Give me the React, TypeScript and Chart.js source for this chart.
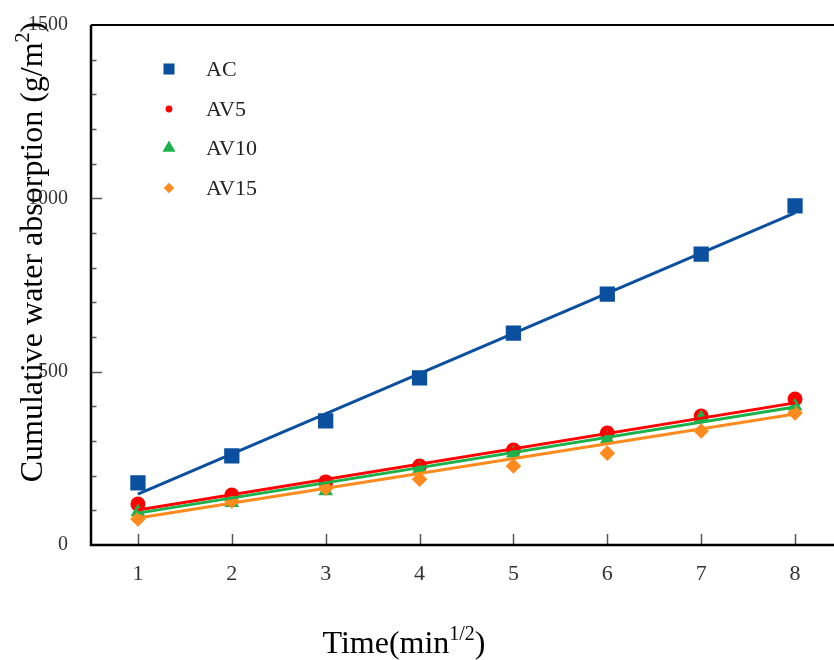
import React, { useEffect, useRef } from 'react';
import { Chart, registerables } from 'chart.js';

Chart.register(...registerables);

// ---- data ----
const times = [1, 2, 3, 4, 5, 6, 7, 8];
const acValues = [179, 257, 358, 482, 611, 724, 839, 978];
const av5Values = [118, 144, 182, 228, 274, 323, 372, 421];
const av10Values = [95, 122, 156, 219, 265, 306, 366, 400];
const av15Values = [75, 127, 164, 190, 228, 265, 329, 381];

const fitX = [1, 8];
const acFit = [147, 958];
const av5Fit = [101, 410];
const av10Fit = [92, 398];
const av15Fit = [78, 378];

const xTickValues = [1, 2, 3, 4, 5, 6, 7, 8];
const yTickValues = [0, 100, 200, 300, 400, 500, 600, 700, 800, 900, 1000, 1100, 1200, 1300, 1400, 1500];
const yLabelValues = [0, 500, 1000, 1500];

const seriesNames = ['AC', 'AV5', 'AV10', 'AV15'];
const seriesColors = ['#0B4F9F', '#FF0000', '#1BB24B', '#FF8A1E'];
const seriesStyles = ['rect', 'circle', 'triangle', 'rectRot'];
const seriesRadius = [10.8, 7.5, 8.5, 7.8];
const legendRadius = [7.8, 3.4, 7.5, 5.2];

const SERIF = '"Liberation Serif", "Times New Roman", serif';

const pts = (vals: number[], xs: number[]) => vals.map((v, i) => ({ x: xs[i], y: v }));

function drawMarker(ctx: CanvasRenderingContext2D, style: string, r: number, x: number, y: number) {
  ctx.beginPath();
  if (style === 'rect') {
    const s = Math.SQRT1_2 * r;
    ctx.rect(x - s, y - s, 2 * s, 2 * s);
  } else if (style === 'circle') {
    ctx.arc(x, y, r, 0, Math.PI * 2);
  } else if (style === 'triangle') {
    for (let k = 0; k < 3; k++) {
      const a = (k * 2 * Math.PI) / 3;
      const px = x + Math.sin(a) * r;
      const py = y - Math.cos(a) * r;
      if (k === 0) ctx.moveTo(px, py);
      else ctx.lineTo(px, py);
    }
    ctx.closePath();
  } else {
    ctx.moveTo(x - r, y);
    ctx.lineTo(x, y - r);
    ctx.lineTo(x + r, y);
    ctx.lineTo(x, y + r);
    ctx.closePath();
  }
  ctx.fill();
}

const decorPlugin = {
  id: 'decor',
  afterDraw(chart: any) {
    const { ctx, chartArea } = chart;
    const xs = chart.scales.x;
    const ys = chart.scales.y;
    const W = chart.width;
    ctx.save();

    // ticks (inward)
    ctx.strokeStyle = '#555';
    ctx.lineWidth = 1.5;
    yTickValues.forEach((v) => {
      if (v === 0 || v === 1500) return;
      const y = Math.round(ys.getPixelForValue(v)) + 0.5;
      const len = v % 500 === 0 ? 11 : 5.5;
      ctx.beginPath();
      ctx.moveTo(chartArea.left, y);
      ctx.lineTo(chartArea.left + len, y);
      ctx.stroke();
    });
    xTickValues.forEach((v) => {
      const x = Math.round(xs.getPixelForValue(v)) + 0.5;
      ctx.beginPath();
      ctx.moveTo(x, chartArea.bottom);
      ctx.lineTo(x, chartArea.bottom - 11);
      ctx.stroke();
    });

    // axis lines
    ctx.strokeStyle = '#000';
    ctx.lineWidth = 2.5;
    ctx.beginPath();
    ctx.moveTo(chartArea.left, chartArea.top);
    ctx.lineTo(chartArea.left, chartArea.bottom);
    ctx.lineTo(W, chartArea.bottom);
    ctx.stroke();
    ctx.lineWidth = 2;
    ctx.beginPath();
    ctx.moveTo(chartArea.left, chartArea.top);
    ctx.lineTo(W, chartArea.top);
    ctx.stroke();

    // legend
    const legendX = 169;
    const legendY = [69, 109, 148, 188];
    seriesNames.forEach((name, i) => {
      ctx.fillStyle = seriesColors[i];
      drawMarker(ctx, seriesStyles[i], legendRadius[i], legendX, legendY[i]);
      ctx.fillStyle = '#222';
      ctx.font = `22px ${SERIF}`;
      ctx.textAlign = 'left';
      ctx.textBaseline = 'middle';
      ctx.fillText(name, 206, legendY[i] + 1);
    });

    // titles with superscript
    ctx.fillStyle = '#000';
    ctx.textBaseline = 'alphabetic';
    const mainFont = `32px ${SERIF}`;
    const supFont = `20px ${SERIF}`;
    const drawSupTitle = (pre: string, sup: string, post: string, cx: number, baseY: number) => {
      ctx.font = mainFont;
      const w1 = ctx.measureText(pre).width;
      const w3 = ctx.measureText(post).width;
      ctx.font = supFont;
      const w2 = ctx.measureText(sup).width;
      const total = w1 + w2 + w3;
      let x = cx - total / 2;
      ctx.textAlign = 'left';
      ctx.font = mainFont;
      ctx.fillText(pre, x, baseY);
      x += w1;
      ctx.font = supFont;
      ctx.fillText(sup, x, baseY - 13);
      x += w2;
      ctx.font = mainFont;
      ctx.fillText(post, x, baseY);
    };
    drawSupTitle('Time(min', '1/2', ')', 404, 653);

    ctx.save();
    ctx.translate(42, 252);
    ctx.rotate(-Math.PI / 2);
    drawSupTitle('Cumulative water absorption (g/m', '2', ')', 0, 0);
    ctx.restore();

    ctx.restore();
  },
};

export default function App() {
  const canvasRef = useRef<HTMLCanvasElement | null>(null);

  useEffect(() => {
    const canvas = canvasRef.current;
    if (!canvas) return;
    const valueSets = [acValues, av5Values, av10Values, av15Values];
    const fitSets = [acFit, av5Fit, av10Fit, av15Fit];

    const scatterDatasets = valueSets.map((vals, i) => ({
      type: 'scatter' as const,
      label: seriesNames[i],
      data: pts(vals, times),
      backgroundColor: seriesColors[i],
      borderColor: seriesColors[i],
      borderWidth: 0,
      pointStyle: seriesStyles[i],
      pointRadius: seriesRadius[i],
      showLine: false,
      order: 8 - i,
    }));
    const lineDatasets = fitSets.map((vals, i) => ({
      type: 'scatter' as const,
      label: seriesNames[i] + ' fit',
      data: pts(vals, fitX),
      borderColor: seriesColors[i],
      backgroundColor: seriesColors[i],
      borderWidth: 3,
      pointRadius: 0,
      showLine: true,
      order: 4 - i,
    }));

    const chart = new Chart(canvas, {
      type: 'scatter',
      data: { datasets: [...scatterDatasets, ...lineDatasets] as any },
      options: {
        animation: false,
        responsive: false,
        devicePixelRatio: 1,
        layout: { padding: { left: 0, right: 0, top: 25, bottom: 0 } },
        plugins: { legend: { display: false }, tooltip: { enabled: false } },
        scales: {
          x: {
            type: 'linear',
            min: 0.5,
            max: 8.3,
            grid: { display: false },
            border: { display: false },
            afterBuildTicks: (scale: any) => {
              scale.ticks = xTickValues.map((v) => ({ value: v }));
            },
            afterFit: (scale: any) => {
              scale.height = 115;
              scale.paddingLeft = 0;
              scale.paddingRight = 0;
            },
            ticks: {
              color: '#333',
              font: { family: SERIF, size: 22 },
              padding: 8,
              maxRotation: 0,
              callback: (v: any) => String(v),
            },
          },
          y: {
            type: 'linear',
            min: 0,
            max: 1500,
            grid: { display: false },
            border: { display: false },
            afterBuildTicks: (scale: any) => {
              scale.ticks = yTickValues.map((v) => ({ value: v }));
            },
            afterFit: (scale: any) => {
              scale.width = 91;
              scale.paddingTop = 0;
              scale.paddingBottom = 0;
            },
            ticks: {
              color: '#333',
              font: { family: SERIF, size: 20 },
              padding: 15,
              autoSkip: false,
              callback: (v: any) => (yLabelValues.includes(Number(v)) ? String(v) : ''),
            },
          },
        },
      },
      plugins: [decorPlugin],
    });
    return () => chart.destroy();
  }, []);

  return (
    <div style={{ position: 'fixed', left: 0, top: 0, width: 834, height: 660, background: '#fff' }}>
      <canvas ref={canvasRef} width={834} height={660} style={{ display: 'block' }} />
    </div>
  );
}
